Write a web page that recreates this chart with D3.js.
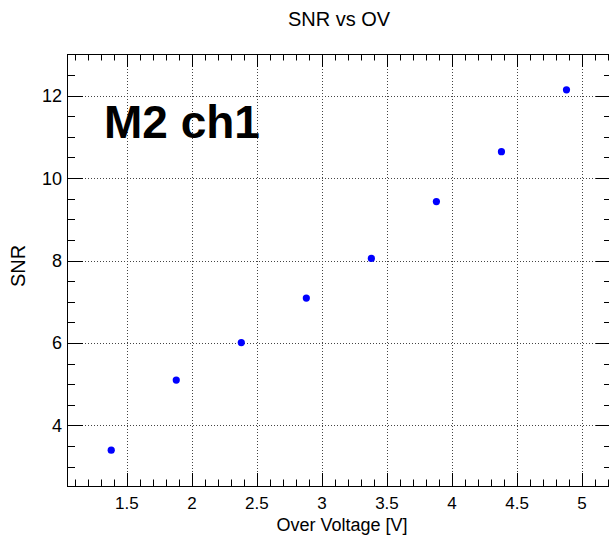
<!DOCTYPE html>
<html>
<head>
<meta charset="utf-8">
<script src="https://cdn.jsdelivr.net/npm/d3@7"></script>
<style>
  body { margin: 0; background: #fff; }
  text { font-family: "Liberation Sans", Arial, sans-serif; }
</style>
</head>
<body>
<script>
let width = 609;
let height = 536;

// measured points (over voltage, SNR)
let overVoltage = [1.38, 1.88, 2.38, 2.88, 3.38, 3.88, 4.38, 4.88];
let snr = [3.40, 5.10, 6.01, 7.09, 8.05, 9.43, 10.64, 12.14];
let xMajor = [1.5, 2, 2.5, 3, 3.5, 4, 4.5, 5];
let xTickLabels = ["1.5", "2", "2.5", "3", "3.5", "4", "4.5", "5"];
let yMajor = [4, 6, 8, 10, 12];
let yTickLabels = ["4", "6", "8", "10", "12"];

let svg = d3.select("body").append("svg").attr("width", width).attr("height", height);

let frameL = 67, frameR = 612, frameT = 54, frameB = 486;
let x = d3.scaleLinear().domain([1.04, 5.23]).range([frameL, frameR]);
let y = d3.scaleLinear().domain([2.53, 13.01]).range([frameB, frameT]);

let xMinor = d3.range(11, 53).map(d => d / 10).filter(d => xMajor.indexOf(d) < 0);
let yMinor = d3.range(6, 27).map(d => d / 2).filter(d => yMajor.indexOf(d) < 0);

// grid
let grid = svg.append('g').attr('stroke', '#444').attr('stroke-width', 1).attr('stroke-dasharray', '1,2');
grid.selectAll('.gx').data(xMajor).enter().append('line')
  .attr('x1', d => Math.round(x(d)) + 0.5).attr('x2', d => Math.round(x(d)) + 0.5)
  .attr('y1', frameT).attr('y2', frameB);
grid.selectAll('.gy').data(yMajor).enter().append('line')
  .attr('y1', d => Math.round(y(d)) + 0.5).attr('y2', d => Math.round(y(d)) + 0.5)
  .attr('x1', frameL).attr('x2', frameR);

// ticks on all four sides
let ticks = svg.append('g').attr('stroke', '#000').attr('stroke-width', 1);
let xt = (vals, len) => {
  vals.forEach(v => {
    let px = Math.round(x(v)) + 0.5;
    ticks.append('line').attr('x1', px).attr('x2', px).attr('y1', frameB).attr('y2', frameB - len);
    ticks.append('line').attr('x1', px).attr('x2', px).attr('y1', frameT).attr('y2', frameT + len);
  });
};
let yt = (vals, len) => {
  vals.forEach(v => {
    let py = Math.round(y(v)) + 0.5;
    ticks.append('line').attr('y1', py).attr('y2', py).attr('x1', frameL).attr('x2', frameL + len);
    ticks.append('line').attr('y1', py).attr('y2', py).attr('x1', frameR).attr('x2', frameR - len);
  });
};
xt(xMajor, 13);
xt(xMinor, 6.5);
yt(yMajor, 16);
yt(yMinor, 8);

// frame
svg.append('rect').attr('x', frameL + 0.5).attr('y', frameT + 0.5)
  .attr('width', frameR - frameL).attr('height', frameB - frameT)
  .attr('fill', 'none').attr('stroke', '#000').attr('stroke-width', 1);

// tick labels
svg.selectAll('.xl').data(xMajor).enter().append('text')
  .attr('x', d => x(d)).attr('y', 509)
  .attr('text-anchor', 'middle').attr('font-size', 17)
  .text((d, i) => xTickLabels[i]);
svg.selectAll('.yl').data(yMajor).enter().append('text')
  .attr('x', 62).attr('y', d => y(d) + 6.5)
  .attr('text-anchor', 'end').attr('font-size', 18)
  .text((d, i) => yTickLabels[i]);

// titles
svg.append('text').attr('x', 339).attr('y', 26).attr('text-anchor', 'middle')
  .attr('font-size', 20).text('SNR vs OV');
svg.append('text').attr('x', 342).attr('y', 531).attr('text-anchor', 'middle')
  .attr('font-size', 18).text('Over Voltage [V]');
svg.append('text').attr('transform', 'translate(25,266) rotate(-90)')
  .attr('text-anchor', 'middle').attr('font-size', 20).text('SNR');

svg.append('text').attr('x', 104).attr('y', 138)
  .attr('font-size', 46).attr('font-weight', 'bold').text('M2 ch1');

// points
svg.selectAll('.pt').data(overVoltage).enter().append('circle')
  .attr('cx', d => x(d)).attr('cy', (d, i) => y(snr[i]))
  .attr('r', 3.6).attr('fill', '#0000ff');
</script>
</body>
</html>
